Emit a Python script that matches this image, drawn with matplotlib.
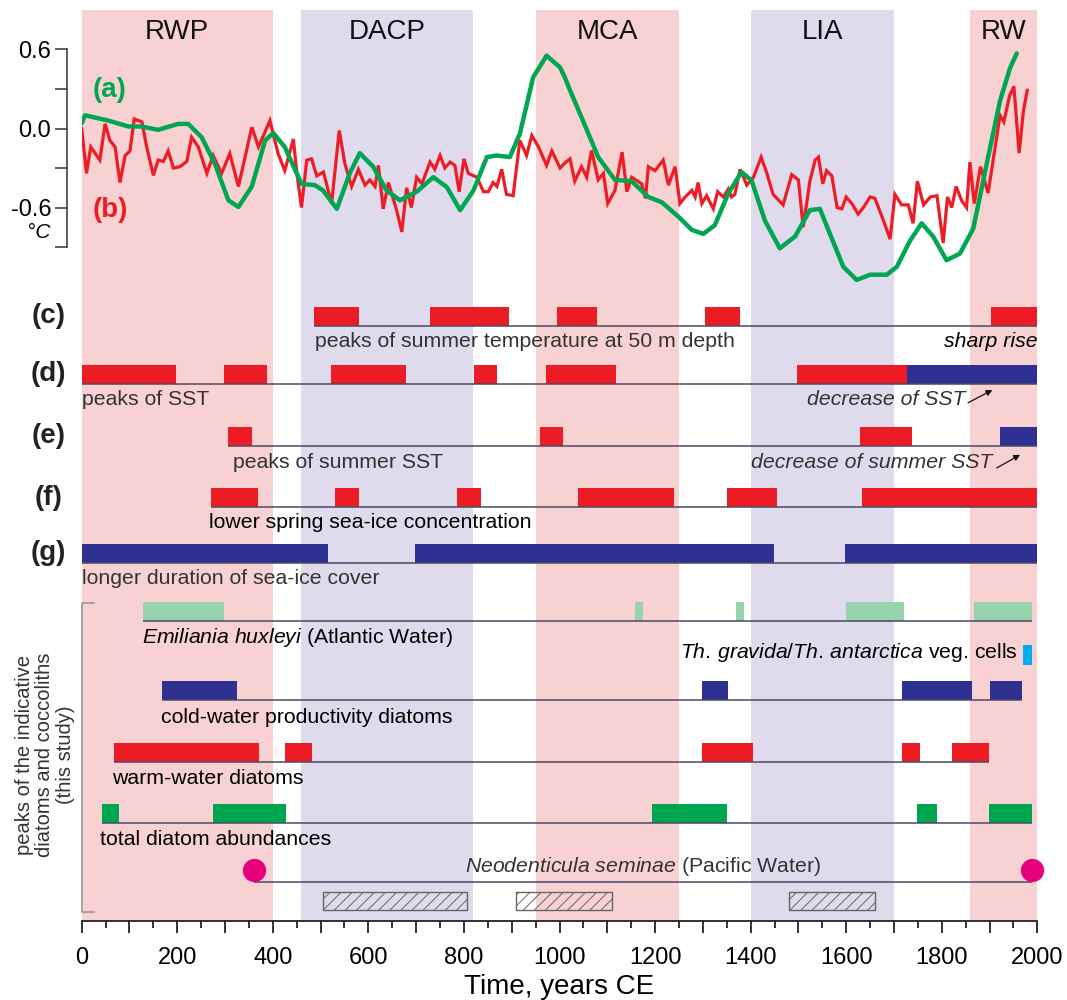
import matplotlib
matplotlib.use("Agg")
import matplotlib.pyplot as plt
from matplotlib.ticker import MultipleLocator, FuncFormatter

plt.rcParams["font.family"] = ["Liberation Sans", "DejaVu Sans"]
plt.rcParams["mathtext.fontset"] = "custom"
plt.rcParams["mathtext.rm"] = "Liberation Sans"
plt.rcParams["mathtext.it"] = "Liberation Sans:italic"
plt.rcParams["hatch.linewidth"] = 0.7

# climate periods
periods = ["RWP", "DACP", "MCA", "LIA", "RW"]
period_start = [0, 460, 950, 1400, 1860]
period_end = [400, 820, 1250, 1700, 2000]
period_warm = [True, False, True, False, True]

# (a) green curve
green_years = [0, 7, 56, 98, 125, 160, 202, 223, 251, 279, 307, 328, 356, 384, 401,
               425, 460, 488, 505, 534, 561, 582, 610, 638, 666, 701, 736, 764, 792,
               820, 848, 868, 896, 917, 945, 973, 1001, 1011, 1022, 1046, 1081, 1116,
               1151, 1186, 1214, 1249, 1277, 1301, 1325, 1353, 1381, 1402, 1430, 1461,
               1493, 1524, 1545, 1566, 1594, 1622, 1650, 1685, 1706, 1734, 1758, 1782,
               1810, 1838, 1866, 1894, 1922, 1943, 1957]
green_vals = [0.04, 0.10, 0.06, 0.015, 0.015, -0.01, 0.035, 0.035, -0.066, -0.27,
              -0.545, -0.596, -0.44, -0.09, -0.035, -0.14, -0.42, -0.43, -0.47, -0.61,
              -0.34, -0.187, -0.29, -0.47, -0.545, -0.48, -0.37, -0.444, -0.62, -0.47,
              -0.217, -0.205, -0.217, -0.04, 0.39, 0.553, 0.465, 0.39, 0.29, 0.086,
              -0.217, -0.39, -0.40, -0.52, -0.56, -0.67, -0.77, -0.80, -0.735, -0.495,
              -0.33, -0.395, -0.70, -0.91, -0.82, -0.62, -0.61, -0.80, -1.05, -1.15,
              -1.11, -1.11, -1.05, -0.85, -0.72, -0.82, -1.00, -0.95, -0.76, -0.27,
              0.21, 0.46, 0.57]

# (b) red curve
red_years = [0, 10, 19, 38, 49, 59, 70, 80, 91, 101, 110, 126, 136, 150, 160, 171, 181,
             192, 206, 220, 230, 244, 262, 275, 293, 310, 328, 356, 370, 394, 411, 425,
             443, 450, 460, 471, 481, 492, 506, 523, 539, 551, 565, 579, 593, 603, 614,
             621, 631, 642, 659, 670, 680, 690, 701, 712, 729, 739, 750, 760, 771, 781,
             790, 800, 809, 827, 841, 851, 861, 869, 879, 889, 903, 917, 931, 942, 956,
             973, 984, 1001, 1015, 1022, 1032, 1046, 1057, 1067, 1081, 1092, 1101, 1116,
             1131, 1141, 1151, 1172, 1180, 1186, 1200, 1217, 1228, 1242, 1252, 1263,
             1277, 1284, 1290, 1298, 1308, 1322, 1331, 1343, 1353, 1360, 1367, 1378,
             1392, 1406, 1422, 1434, 1447, 1468, 1486, 1500, 1510, 1524, 1535, 1542,
             1551, 1559, 1570, 1581, 1591, 1600, 1612, 1625, 1636, 1650, 1660, 1674,
             1692, 1702, 1716, 1730, 1740, 1749, 1762, 1776, 1790, 1803, 1812, 1821,
             1830, 1842, 1852, 1859, 1868, 1881, 1897, 1922, 1930, 1942, 1951, 1962,
             1971, 1979]
red_vals = [0.0, -0.34, -0.14, -0.24, 0.035, -0.09, -0.14, -0.41, -0.205, -0.17, 0.073,
            0.05, -0.14, -0.356, -0.24, -0.25, -0.17, -0.30, -0.29, -0.25, -0.066,
            -0.14, -0.34, -0.205, -0.34, -0.19, -0.44, 0.01, -0.14, 0.06, -0.19, -0.32,
            -0.08, -0.33, -0.60, -0.24, -0.23, -0.36, -0.33, -0.57, -0.015, -0.27,
            -0.44, -0.31, -0.43, -0.39, -0.44, -0.28, -0.61, -0.41, -0.62, -0.785,
            -0.45, -0.60, -0.37, -0.42, -0.255, -0.31, -0.205, -0.30, -0.255, -0.28,
            -0.48, -0.23, -0.34, -0.37, -0.48, -0.48, -0.41, -0.44, -0.31, -0.50, -0.51,
            -0.09, -0.205, -0.053, -0.14, -0.28, -0.17, -0.30, -0.25, -0.23, -0.40,
            -0.29, -0.37, -0.167, -0.39, -0.34, -0.57, -0.47, -0.18, -0.48, -0.37,
            -0.42, -0.53, -0.29, -0.32, -0.24, -0.43, -0.29, -0.57, -0.52, -0.47, -0.52,
            -0.41, -0.57, -0.51, -0.61, -0.48, -0.52, -0.46, -0.52, -0.50, -0.31, -0.43,
            -0.37, -0.217, -0.34, -0.50, -0.58, -0.35, -0.39, -0.75, -0.40, -0.24,
            -0.217, -0.42, -0.32, -0.36, -0.60, -0.61, -0.52, -0.57, -0.65, -0.60,
            -0.52, -0.53, -0.66, -0.84, -0.50, -0.58, -0.58, -0.72, -0.40, -0.58, -0.52,
            -0.51, -0.87, -0.52, -0.60, -0.44, -0.55, -0.60, -0.255, -0.57, -0.29,
            -0.49, 0.10, 0.05, 0.25, 0.32, -0.187, 0.136, 0.29]

# proxy records, (start, end) in years CE
c_warm = [(486, 580), (729, 895), (995, 1079), (1304, 1377), (1904, 2000)]
d_warm = [(0, 197), (297, 388), (522, 679), (821, 869), (972, 1118), (1497, 1727)]
d_cold = [(1727, 2000)]
e_warm = [(307, 356), (959, 1008), (1629, 1737)]
e_cold = [(1922, 2000)]
f_warm = [(271, 370), (530, 580), (785, 836), (1039, 1240), (1350, 1455), (1634, 2000)]
g_cold = [(0, 516), (698, 1448), (1598, 2000)]
ehux = [(129, 297), (1158, 1174), (1370, 1387), (1599, 1722), (1867, 1988)]
thgrav = [(1971, 1988)]
cold_diat = [(168, 325), (1299, 1352), (1717, 1864), (1900, 1968)]
warm_diat = [(67, 371), (426, 481), (1299, 1405), (1717, 1754), (1821, 1899)]
total_diat = [(42, 78), (274, 427), (1193, 1351), (1748, 1790), (1899, 1988)]
neo_years = [360, 1988]
hatched = [(504, 807), (908, 1109), (1480, 1660)]

RED = "#ed1c24"
NAVY = "#2e3192"
PINK = "#f8d2d2"
LAV = "#dfdbec"
LINE = "#4a4a66"

fig = plt.figure(figsize=(10.67, 10), dpi=100)
left, width = 81.7 / 1067, 955.6 / 1067

# lower panel: y data in figure-pixel rows (inverted)
ax = fig.add_axes([left, 1 - 920.7 / 1000, width, (920.7 - 10) / 1000])
ax.set_xlim(0, 2000)
ax.set_ylim(920.7, 10)
for name, s, e, warm in zip(periods, period_start, period_end, period_warm):
    ax.axvspan(s, e, color=PINK if warm else LAV, zorder=0, lw=0)
    ax.text((s + e) / 2, 32, name, ha="center", va="center", fontsize=20, color="#111")

BAR_H = 19


def row(base, parts, label=None):
    lo, hi = 3000, -1
    for spans, col in parts:
        ax.broken_barh([(s, e - s) for s, e in spans], (base - BAR_H, BAR_H),
                       facecolors=col, zorder=2)
        lo = min(lo, min(s for s, _ in spans))
        hi = max(hi, max(e for _, e in spans))
    ax.hlines(base, lo, hi, color=LINE, lw=1.1, zorder=3)
    if label:
        ax.text(-70, base - BAR_H / 2, label, ha="center", va="center",
                fontsize=20, fontweight="bold", color="#222")


row(325.7, [(c_warm, RED)], "(c)")
row(384, [(d_warm, RED), (d_cold, NAVY)], "(d)")
row(446, [(e_warm, RED), (e_cold, NAVY)], "(e)")
row(507.3, [(f_warm, RED)], "(f)")
row(562.7, [(g_cold, NAVY)], "(g)")
row(621, [(ehux, "#98d3ae")])
row(700.3, [(cold_diat, NAVY)])
row(762, [(warm_diat, RED)])
row(823.3, [(total_diat, "#00a64f")])
ax.broken_barh([(s, e - s) for s, e in thgrav], (645.5, 19.5), facecolors="#00aeef", zorder=2)
ax.hlines(881.7, min(neo_years), max(neo_years), color=LINE, lw=1.1, zorder=3)
ax.scatter(neo_years, [870] * len(neo_years), s=280, color="#e6007e", zorder=4,
           clip_on=False, linewidths=0)
ax.broken_barh([(s, e - s) for s, e in hatched], (891.7, 18.3), facecolors="none",
               edgecolors="#666666", hatch="///", linewidth=1, zorder=2)

fs = 15.3
ax.text(489, 341.7, "peaks of summer temperature at 50 m depth", fontsize=fs, color="#333", va="center")
ax.text(2000, 341.7, "sharp rise", fontsize=fs, style="italic", ha="right", va="center")
ax.text(0, 400, "peaks of SST", fontsize=fs, color="#333", va="center")
ax.text(1849, 400, "decrease of SST", fontsize=fs, color="#333", style="italic", ha="right", va="center")
ax.text(317, 463, "peaks of summer SST", fontsize=fs, color="#333", va="center")
ax.text(1906, 463, "decrease of summer SST", fontsize=fs, color="#333", style="italic", ha="right", va="center")
ax.text(267, 523, "lower spring sea-ice concentration", fontsize=fs, va="center")
ax.text(0, 579, "longer duration of sea-ice cover", fontsize=fs, color="#333", va="center")
ax.text(127, 638, r"$\mathit{Emiliania\ huxleyi}$ (Atlantic Water)", fontsize=fs, va="center")
ax.text(1959, 653, r"$\mathit{Th.\,gravida/Th.\,antarctica}$ veg. cells", fontsize=fs, ha="right", va="center")
ax.text(165, 717.7, "cold-water productivity diatoms", fontsize=fs, va="center")
ax.text(64, 779, "warm-water diatoms", fontsize=fs, va="center")
ax.text(38, 840, "total diatom abundances", fontsize=fs, va="center")
ax.text(1175, 866.7, r"$\mathit{Neodenticula\ seminae}$ (Pacific Water)", fontsize=fs, color="#333",
        ha="center", va="center")

arrow = dict(arrowstyle="-|>", lw=0.9, color="#111", mutation_scale=9, shrinkA=0, shrinkB=0)
ax.annotate("", xy=(1906, 390), xytext=(1855, 402.8), arrowprops=arrow)
ax.annotate("", xy=(1964, 454.8), xytext=(1915, 468), arrowprops=arrow)

# bracket for this-study records
ax.plot([25, 0, 0, 25], [603, 603, 911.7, 911.7], color="#999", lw=1.2, clip_on=False)
fig.text(45 / 1067, 1 - 755 / 1000, "peaks of the indicative\ndiatoms and coccoliths\n(this study)",
         rotation=90, ha="center", va="center", multialignment="center", fontsize=14.5,
         color="#333", linespacing=1.12)

for sp in ["top", "right", "left"]:
    ax.spines[sp].set_visible(False)
ax.spines["bottom"].set_color("#222")
ax.spines["bottom"].set_linewidth(1.3)
ax.set_yticks([])
ax.xaxis.set_major_locator(MultipleLocator(100))
ax.xaxis.set_minor_locator(MultipleLocator(50))
ax.xaxis.set_major_formatter(FuncFormatter(lambda v, p: f"{int(v)}" if int(v) % 200 == 0 else ""))
ax.tick_params(axis="x", which="major", direction="out", length=8.6, width=1.3,
               labelsize=17, pad=10, color="#222")
ax.tick_params(axis="x", which="minor", direction="out", length=4.7, width=1.3, color="#222")
ax.set_xlabel("Time, years CE", fontsize=20, labelpad=4)

# upper panel: temperature curves
ax_t = fig.add_axes([left, 0.70, width, 0.29])
ax_t.patch.set_visible(False)
ax_t.set_xlim(0, 2000)
ax_t.set_ylim((128.5 - 300) / 131.7, (128.5 - 10) / 131.7)
ax_t.plot(red_years, red_vals, color="#ee1c25", lw=2.3, solid_joinstyle="miter")
ax_t.plot(green_years, green_vals, color="#00a650", lw=3.2, solid_joinstyle="round",
          solid_capstyle="round")
for sp in ["top", "right", "bottom"]:
    ax_t.spines[sp].set_visible(False)
ax_t.spines["left"].set_position(("outward", 10.4))
ax_t.spines["left"].set_bounds(-0.9, 0.6)
ax_t.spines["left"].set_color("#333")
ax_t.spines["left"].set_linewidth(1.1)
ax_t.set_xticks([])
ax_t.set_yticks([-0.9, -0.6, -0.3, 0.0, 0.3, 0.6])
ax_t.set_yticklabels(["", "-0.6", "", "0.0", "", "0.6"])
ax_t.tick_params(axis="y", direction="out", length=8.6, width=1.1, labelsize=17, pad=3,
                 color="#333")
ax_t.text(59, 0.29, "(a)", color="#00a650", fontsize=20, fontweight="bold", ha="center", va="center")
ax_t.text(59, -0.62, "(b)", color="#ee1c25", fontsize=20, fontweight="bold", ha="center", va="center")
fig.text(39 / 1067, 1 - 233 / 1000, "°C", fontsize=15, style="italic", ha="center", va="center")

fig.savefig("out.png", dpi=100)
